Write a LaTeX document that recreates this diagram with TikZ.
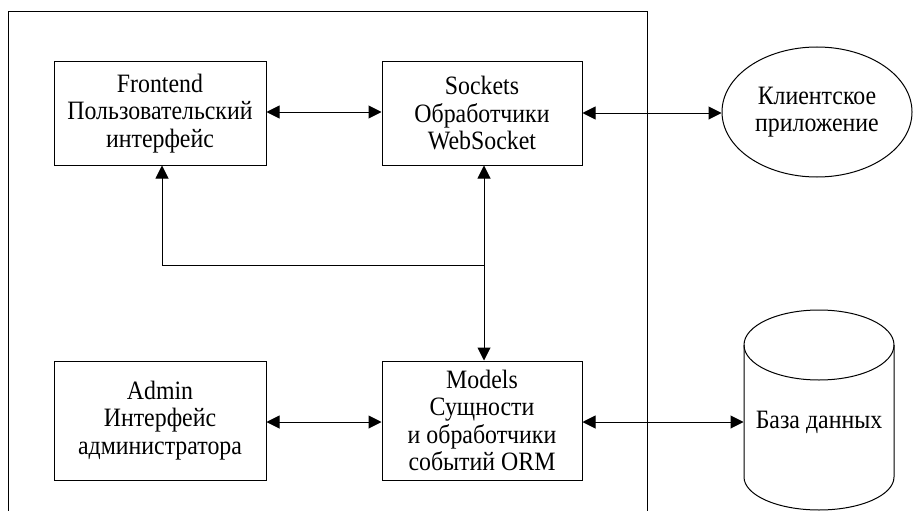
\documentclass[tikz,border=0pt]{standalone}
\usepackage{fontspec}
\setmainfont{Liberation Serif}[FakeStretch=0.9]
\usetikzlibrary{arrows.meta,shapes.geometric}
\begin{document}
\begin{tikzpicture}[x=1pt,y=-1pt,
  line width=1pt,
  txt/.style={font=\fontsize{26.5}{27.5}\selectfont},
  box/.style={draw, line width=1pt, rectangle, inner sep=0pt, align=center, txt},
  arr/.style={{Triangle[length=13pt,width=13pt]}-{Triangle[length=13pt,width=13pt]}, line width=1pt},
  arr1/.style={-{Triangle[length=13pt,width=13pt]}, line width=1pt}]
\useasboundingbox (0,0) rectangle (913,511);
% outer frame
\draw (8,530) -- (8,12) -- (647,12) -- (647,530);
% boxes
\node[box, minimum width=212pt, minimum height=103pt] (fe) at (160,113.5) {Frontend\\Пользовательский\\интерфейс};
\node[box, minimum width=200pt, minimum height=103pt] (so) at (482,113.5) {Sockets\\Обработчики\\WebSocket};
\node[box, minimum width=212pt, minimum height=119pt] (ad) at (160,420.5) {Admin\\Интерфейс\\администратора};
\node[box, minimum width=200pt, minimum height=119pt] (mo) at (482,420.5) {Models\\Сущности\\и обработчики\\событий ORM};
\node[draw, ellipse, line width=1pt, inner sep=0pt, minimum width=190pt, minimum height=130pt, align=center, txt] (cl) at (817,112) {Клиентское\\приложение};
% database cylinder
\node[minimum width=150pt, minimum height=200pt, inner sep=0pt, txt] (db) at (819,422) {База данных};
\draw (744,345) -- (744,477) arc[start angle=180, end angle=0, x radius=75, y radius=33] -- (894,345);
\draw (819,345) ellipse[x radius=75, y radius=35];
% connectors
\coordinate (j) at ([xshift=2pt]so.south |- 0,265);
\draw[arr] (fe.east |- 0,112) -- (so.west |- 0,112);
\draw[arr] (so.east |- 0,113) -- (cl.west |- 0,113);
\draw[arr] (ad.east |- 0,422) -- (mo.west |- 0,422);
\draw[arr] (mo.east |- 0,422) -- (db.west);
\draw[arr] ([xshift=2pt]so.south) -- ([xshift=2pt]mo.north);
\draw[arr1] (j) -| ([xshift=2pt]fe.south);
\end{tikzpicture}
\end{document}
